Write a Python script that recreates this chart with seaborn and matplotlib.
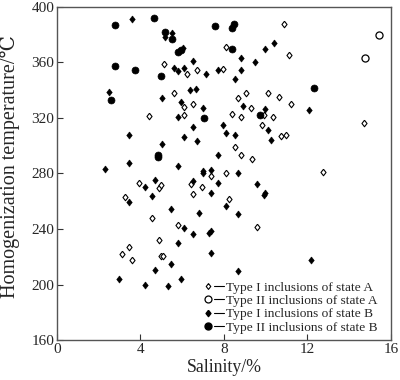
import numpy as np
import pandas as pd
import matplotlib
matplotlib.use('Agg')
import matplotlib.pyplot as plt
import seaborn as sns
from matplotlib.lines import Line2D
from matplotlib.legend_handler import HandlerTuple

# Type I inclusions, state A (open diamonds)
sal_1a = [5.15, 4.41, 6.23, 6.69, 7.98, 8.10, 5.62, 6.07, 6.51, 6.08, 8.69, 9.07, 10.12,
          9.32, 8.38, 8.80, 9.90, 9.85, 8.53, 10.89, 11.13, 10.63, 11.24, 10.36, 10.74, 11.00,
          14.71, 8.80, 9.34, 7.39, 8.11, 12.77, 3.94, 4.87, 5.00, 3.27, 4.55, 4.87, 3.45,
          3.11, 3.61, 5.00, 5.09, 6.42, 6.96, 6.51, 8.24, 9.60, 5.78]
tem_1a = [358.6, 321.3, 351.6, 354.3, 355.2, 370.8, 338.0, 327.7, 330.3, 322.0, 334.0, 338.0, 338.0,
          327.4, 322.7, 320.5, 322.1, 315.0, 299.2, 387.6, 365.5, 335.3, 330.3, 320.5, 307.3, 308.0,
          316.6, 293.2, 290.6, 278.2, 280.5, 280.7, 273.0, 269.4, 271.6, 262.8, 248.2, 231.9, 227.3,
          221.8, 218.0, 220.6, 220.6, 272.4, 270.0, 264.9, 261.9, 241.2, 242.6]

# Type II inclusions, state A (open circles)
sal_2a = [15.45, 14.77]
tem_2a = [379.7, 363.4]

# Type I inclusions, state B (filled diamonds)
sal_1b = [3.61, 5.49, 5.19, 2.47, 5.01, 3.46, 5.01, 5.62, 5.78, 6.10, 6.54, 7.12, 7.70, 8.80,
          8.81, 8.53, 9.49, 9.99, 6.39, 6.67, 5.94, 6.98, 5.78, 6.53, 6.08, 6.69, 8.92, 9.99,
          7.98, 8.12, 8.53, 10.12, 10.38, 12.07, 10.25, 7.70, 6.99, 6.99, 7.39, 8.67, 3.45, 2.31,
          5.80, 4.71, 4.23, 4.55, 3.45, 4.71, 2.95, 4.23, 6.54, 7.39, 7.70, 9.60, 9.91, 9.99,
          8.11, 8.67, 5.47, 6.83, 6.10, 6.54, 7.28, 7.39, 5.78, 7.39, 5.47, 8.67, 5.94, 5.33,
          12.18, 6.04]
tem_1b = [391.0, 380.9, 378.4, 338.5, 334.2, 307.6, 301.1, 356.2, 353.8, 355.7, 361.2, 351.6, 354.7, 363.4,
          354.5, 348.0, 360.5, 369.8, 340.4, 341.1, 331.3, 327.0, 321.0, 313.3, 306.1, 303.3, 328.4, 326.5,
          315.0, 309.5, 308.0, 311.6, 374.1, 325.8, 304.0, 293.2, 281.7, 280.0, 282.6, 280.0, 287.2, 283.2,
          285.5, 275.3, 270.6, 264.0, 259.7, 210.3, 204.3, 199.5, 274.8, 265.6, 272.8, 272.6, 264.2, 265.6,
          256.6, 250.8, 254.6, 251.7, 240.8, 236.4, 236.9, 238.8, 229.7, 222.8, 215.1, 209.6, 204.3, 198.8,
          218.0, 370.1]

# Type II inclusions, state B (filled circles)
sal_2b = [2.76, 4.63, 5.17, 5.52, 2.76, 3.72, 5.00, 2.59, 7.55, 8.40, 8.50, 5.80, 5.93, 8.37,
          7.06, 9.74, 12.31, 4.85, 4.86]
tem_2b = [386.8, 392.0, 381.6, 376.8, 357.4, 354.5, 350.0, 333.0, 385.9, 385.0, 387.5, 367.7, 368.9, 369.8,
          319.8, 322.2, 341.8, 293.5, 292.0]

labels = ['Type I inclusions of state A', 'Type II inclusions of state A',
          'Type I inclusions of state B', 'Type II inclusions of state B']

sns.set_style('ticks')
plt.rcParams['font.family'] = ['Liberation Serif', 'DejaVu Serif', 'DejaVu Sans']

# slightly narrow diamond, as in the original figure
dmd = [(0, 1), (0.78, 0), (0, -1), (-0.78, 0), (0, 1)]

fig = plt.figure(figsize=(4.0, 3.8), dpi=100)
ax = fig.add_axes([0.1425, 0.105, 0.8345, 0.877])

sns.scatterplot(x=sal_1a, y=tem_1a, marker=dmd, s=22, facecolor='white', edgecolor='black',
                linewidth=0.8, ax=ax)
sns.scatterplot(x=sal_2a, y=tem_2a, marker='o', s=26, facecolor='white', edgecolor='black',
                linewidth=0.9, ax=ax)
sns.scatterplot(x=sal_1b, y=tem_1b, marker=dmd, s=26, color='black', edgecolor='black',
                linewidth=0.4, ax=ax)
sns.scatterplot(x=sal_2b, y=tem_2b, marker='o', s=25, color='black', edgecolor='black',
                linewidth=0.5, ax=ax)

ax.set_xlim(0, 16)
ax.set_ylim(160, 400)
ax.set_xticks([0, 4, 8, 12, 16])
ax.set_yticks([160, 200, 240, 280, 320, 360, 400])
ax.tick_params(direction='in', length=4, width=0.8, labelsize=11, pad=2, color='#333333')
for sp in ax.spines.values():
    sp.set_color('#555555')
    sp.set_linewidth(1.0)
ax.set_xlabel('Salinity/%', fontsize=12.8, labelpad=2)
ax.set_ylabel('Homogenization temperature/℃', fontsize=14.5)
ax.yaxis.set_label_coords(-0.112, 0.52)

# legend: marker followed by a short dash
styles = [dict(marker=dmd, markersize=4.2, markerfacecolor='white', markeredgecolor='black', markeredgewidth=0.8),
          dict(marker='o', markersize=5, markerfacecolor='white', markeredgecolor='black', markeredgewidth=0.9),
          dict(marker=dmd, markersize=4.5, markerfacecolor='black', markeredgecolor='black'),
          dict(marker='o', markersize=5, markerfacecolor='black', markeredgecolor='black')]
handles = []
for st in styles:
    mk = Line2D([], [], linestyle='none', **st)
    ln = Line2D([], [], color='black', linewidth=0.8)
    handles.append((mk, ln))
ax.legend(handles, labels, handler_map={tuple: HandlerTuple(ndivide=None, pad=0.1)},
          loc='lower right', bbox_to_anchor=(0.985, -0.005), frameon=False, fontsize=9.6,
          handlelength=1.6, handletextpad=0.15, labelspacing=0.08, borderaxespad=0.2)

fig.savefig('out.png', dpi=100)
